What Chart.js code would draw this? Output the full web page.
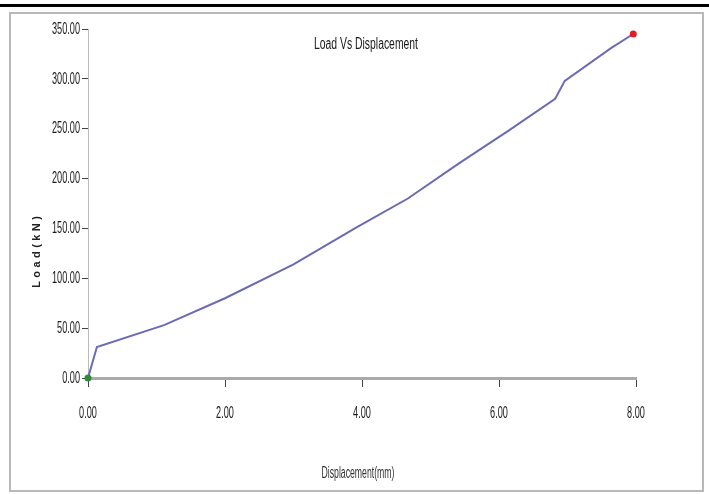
<!DOCTYPE html>
<html><head><meta charset="utf-8">
<script src="https://cdn.jsdelivr.net/npm/chart.js@4/dist/chart.umd.min.js"></script>
<style>html,body{margin:0;padding:0;background:#fff;}canvas{display:block;}</style>
</head><body>
<canvas id="c" width="709" height="494"></canvas>
<script>
const displacement = [0, 0.13, 1.11, 2.0, 3.0, 3.92, 4.67, 5.41, 6.14, 6.82, 6.96, 7.64, 7.96];
const load = [0, 31, 53, 80, 114, 151, 180, 215, 248, 280, 298, 331, 345];
const xTicks = [0, 2, 4, 6, 8];
const yTicks = [0, 50, 100, 150, 200, 250, 300, 350];
const chartTitle = "Load Vs Displacement";
const xTitle = "Displacement(mm)";
const yTitle = "Load(kN)";

const FAM = "'Liberation Sans', Arial, sans-serif";
const TICK_PX = 17;
const mctx = document.createElement('canvas').getContext('2d');
function widthOf(text, px, weight) {
  mctx.font = (weight || '') + ' ' + px + 'px ' + FAM;
  return mctx.measureText(text).width;
}
const tickSX = 28 / widthOf('350.00', TICK_PX);
const tickFont = {family: FAM, size: TICK_PX};
const n = load.length;
const pts = displacement.map((x, i) => ({x: x, y: load[i]}));

function condensedText(ctx, text, x, y, px, targetW, weight) {
  ctx.font = (weight || '') + ' ' + px + 'px ' + FAM;
  const sx = targetW / ctx.measureText(text).width;
  ctx.save();
  ctx.translate(x, y);
  ctx.scale(sx, 1);
  ctx.fillText(text, 0, 0);
  ctx.restore();
}

function condenseScale(scale) {
  if (scale._condensed) return;
  const orig = scale.drawLabels.bind(scale);
  scale.drawLabels = function (area) {
    const ctx = this.ctx;
    const proto = CanvasRenderingContext2D.prototype.fillText;
    ctx.fillText = function (t, x, y) {
      this.save();
      this.translate(x, y);
      this.scale(tickSX, 1);
      proto.call(this, t, 0, 0);
      this.restore();
    };
    try { orig(area); } finally { delete ctx.fillText; }
  };
  scale._condensed = true;
}

const decor = {
  id: 'decor',
  beforeDraw(chart) {
    condenseScale(chart.scales.x);
    condenseScale(chart.scales.y);
    const ctx = chart.ctx;
    ctx.save();
    ctx.fillStyle = '#fff';
    ctx.fillRect(0, 0, chart.width, chart.height);
    ctx.fillStyle = '#000';
    ctx.fillRect(0, 4, 709, 3);
    ctx.strokeStyle = '#b8b8b8';
    ctx.lineWidth = 2;
    ctx.strokeRect(10, 13, 693, 478);
    ctx.restore();
  },
  afterDraw(chart) {
    const ctx = chart.ctx;
    ctx.save();
    ctx.textAlign = 'center';
    ctx.textBaseline = 'middle';
    ctx.fillStyle = '#1a1a1a';
    condensedText(ctx, chartTitle, 366, 45, 16, 104);
    ctx.fillStyle = '#333';
    condensedText(ctx, xTitle, 358, 474, 16, 73);
    ctx.translate(37, 252);
    ctx.rotate(-Math.PI / 2);
    ctx.font = "bold 11px " + FAM;
    const w = ctx.measureText(yTitle).width;
    const ls = Math.max(0, (75 - w) / yTitle.length);
    ctx.letterSpacing = ls + 'px';
    ctx.fillStyle = '#222';
    ctx.fillText(yTitle, ls / 2, 0);
    ctx.restore();
  }
};

new Chart(document.getElementById('c'), {
  type: 'line',
  data: {
    datasets: [{
      data: pts,
      clip: false,
      borderColor: '#6b6bb5',
      borderWidth: 2,
      tension: 0,
      fill: false,
      pointRadius: load.map((v, i) => (i === 0 || i === n - 1) ? 3.5 : 0),
      pointBackgroundColor: load.map((v, i) => i === 0 ? '#2e8b3a' : '#e02020'),
      pointBorderColor: load.map((v, i) => i === 0 ? '#2e8b3a' : '#e02020'),
      pointBorderWidth: 0
    }]
  },
  options: {
    responsive: false,
    animation: false,
    layout: {padding: {left: 0, right: 73, top: 29, bottom: 0}},
    plugins: {legend: {display: false}, title: {display: false}, tooltip: {enabled: false}},
    scales: {
      x: {
        type: 'linear', min: 0, max: 8,
        afterBuildTicks(s) { s.ticks = xTicks.map(v => ({value: v})); },
        afterFit(s) { s.height = 116; },
        grid: {drawOnChartArea: false, drawTicks: true, tickLength: 9, color: '#444', lineWidth: 1},
        border: {display: true, color: '#aaaaaa', width: 3},
        ticks: {color: '#1a1a1a', font: tickFont, padding: 16, callback: v => Number(v).toFixed(2), maxRotation: 0, autoSkip: false}
      },
      y: {
        type: 'linear', min: 0, max: 350,
        afterBuildTicks(s) { s.ticks = yTicks.map(v => ({value: v})); },
        afterFit(s) { s.width = 88; },
        grid: {drawOnChartArea: false, drawTicks: true, tickLength: 6, color: '#444', lineWidth: 1},
        border: {display: true, color: '#bbbbbb', width: 1},
        ticks: {color: '#1a1a1a', font: tickFont, padding: 2, callback: v => Number(v).toFixed(2), autoSkip: false}
      }
    }
  },
  plugins: [decor]
});
</script>
</body></html>
